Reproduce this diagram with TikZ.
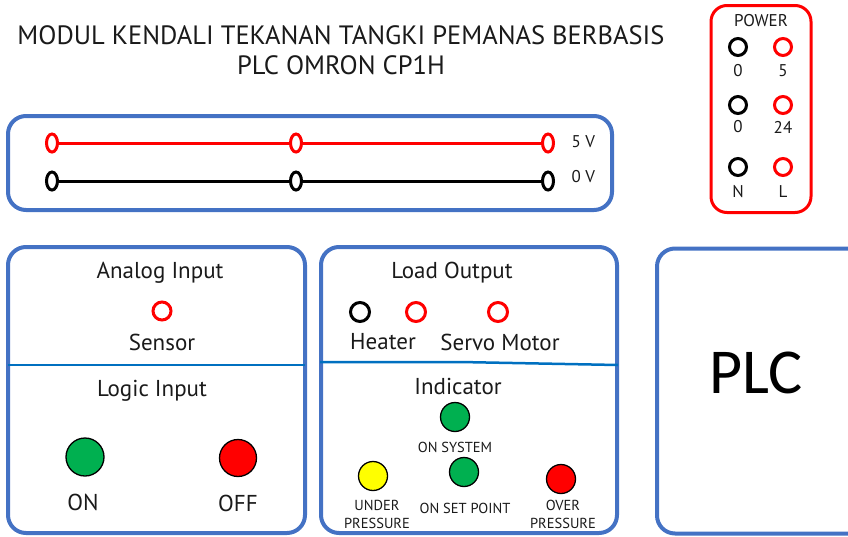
\documentclass[tikz,border=0pt]{standalone}
\usepackage{fontspec}
\setmainfont{PT Sans}
\newfontfamily\plcfont{Carlito}
\usetikzlibrary{shapes.geometric}
\definecolor{panelBlue}{HTML}{4472C4}
\definecolor{lineBlue}{HTML}{0070C0}
\definecolor{jackRed}{HTML}{FF0000}
\definecolor{ledGreen}{HTML}{00B050}
\definecolor{ledYellow}{HTML}{FFFF00}
\definecolor{ink}{HTML}{1A1A1A}

\begin{document}
\begin{tikzpicture}[x=1pt,y=-1pt,text=ink,
  panel/.style={draw=panelBlue,line width=4pt,rounded corners=18pt,inner sep=0pt},
  jack/.style={circle,draw=#1,line width=3pt,minimum size=17pt,inner sep=0pt},
  busjack/.style={ellipse,draw=#1,line width=3pt,minimum width=11pt,minimum height=18pt,inner sep=0pt},
  lamp/.style 2 args={circle,draw=black,fill=#1,line width=1.3pt,minimum size=#2,inner sep=0pt},
  head/.style={font=\fontsize{23}{26}\selectfont},
  lbl/.style={font=\fontsize{23}{26}\selectfont},
  small/.style={font=\fontsize{14.5}{18}\selectfont,align=center},
  pw/.style={font=\fontsize{17}{19}\selectfont},
  divider/.style={draw=lineBlue,line width=2.5pt}]
\useasboundingbox (0,0) rectangle (848,536);
\clip (0,0) rectangle (848,536);
% title
\node[font=\fontsize{26.5}{30}\selectfont,align=center] (title) at (341,50)
  {MODUL KENDALI TEKANAN TANGKI PEMANAS BERBASIS\\PLC OMRON CP1H};
% power supply box
\node[draw=jackRed,line width=3pt,rounded corners=16pt,minimum width=100pt,minimum height=207pt] (power) at (761,109) {};
\node[pw] (powerlbl) at (761,21) {POWER};
\node[jack=black] (p0a) at (738,47) {};
\node[jack=jackRed] (p5) at (783,47) {};
\node[jack=black] (p0b) at (738,105) {};
\node[jack=jackRed] (p24) at (783,105) {};
\node[jack=black] (pN) at (738,167) {};
\node[jack=jackRed] (pL) at (783,167) {};
\node[pw] at (738,71) {0};
\node[pw] at (783,71) {5};
\node[pw] at (738,127) {0};
\node[pw] at (783,127) {24};
\node[pw] at (738,192) {N};
\node[pw] at (783,192) {L};
% bus bar
\node[panel,minimum width=604pt,minimum height=94pt] (bus) at (310,163) {};
\node[busjack=jackRed] (r1) at (52,143) {};
\node[busjack=jackRed] (r2) at (296,143) {};
\node[busjack=jackRed] (r3) at (548,143) {};
\node[busjack=black] (b1) at (52,181) {};
\node[busjack=black] (b2) at (296,181) {};
\node[busjack=black] (b3) at (548,181) {};
\draw[jackRed,line width=3pt] (r1) -- (r2) -- (r3);
\draw[black,line width=3pt] (b1) -- (b2) -- (b3);
\node[pw,anchor=west] (v5) at (568,142) {5 V};
\node[pw,anchor=west] (v0) at (568,177) {0 V};
% input panel
\node[panel,minimum width=297pt,minimum height=286pt] (inpanel) at (156.5,390) {};
\draw[divider] (8,365) -- (305,365);
\node[head] (analog) at (160,273) {Analog Input};
\node[jack=jackRed,minimum size=18pt] (sensor) at (162,311) {};
\node[lbl] at (162,342) {Sensor};
\node[head] (logic) at (152,391) {Logic Input};
\node[lamp={ledGreen}{38pt}] (on) at (85,457) {};
\node[lamp={jackRed}{37pt}] (off) at (238,458) {};
\node[lbl] at (83,502) {ON};
\node[lbl] at (238,503) {OFF};
% output panel
\node[panel,minimum width=296pt,minimum height=286pt] (outpanel) at (469,390) {};
\draw[divider] (320,362) -- (460,362) -- (618,365);
\node[head] (load) at (452,273) {Load Output};
\node[jack=black,minimum size=19pt] (heater) at (360,312) {};
\node[jack=jackRed,minimum size=19pt] (servoA) at (416,312) {};
\node[jack=jackRed,minimum size=19pt] (servoB) at (498,312) {};
\node[lbl] at (383,342) {Heater};
\node[lbl] at (500,342) {Servo Motor};
\node[head] (indicator) at (458,386) {Indicator};
\node[lamp={ledGreen}{29pt}] (onsys) at (455,417) {};
\node[small] at (455,447) {ON SYSTEM};
\node[lamp={ledYellow}{29pt}] (under) at (373,476) {};
\node[small] at (377,514) {UNDER\\PRESSURE};
\node[lamp={ledGreen}{29pt}] (setpoint) at (464,472) {};
\node[small] at (465,508) {ON SET POINT};
\node[lamp={jackRed}{29pt}] (over) at (561,479) {};
\node[small] at (563,514) {OVER\\PRESSURE};
% plc
\node[panel,minimum width=230pt,minimum height=285pt] (plc) at (772,391) {};
\node[font=\plcfont\fontsize{64}{70}\selectfont,text=black] (plclbl) at (756,373) {PLC};
\end{tikzpicture}
\end{document}
